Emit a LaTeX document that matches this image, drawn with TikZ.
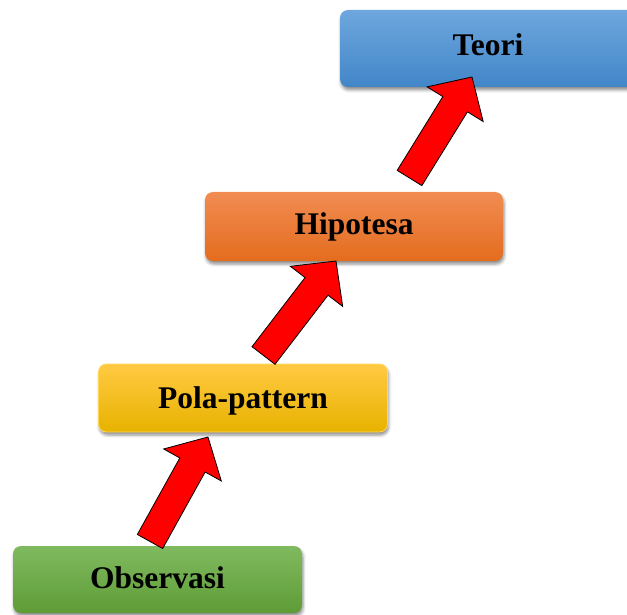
\documentclass[tikz,border=0pt]{standalone}
\usepackage{fontspec}
\setmainfont{Liberation Serif}
\usetikzlibrary{calc,shadows.blur}
\definecolor{bluetop}{RGB}{110,167,222}
\definecolor{bluebot}{RGB}{66,134,200}
\definecolor{orgtop}{RGB}{241,140,82}
\definecolor{orgbot}{RGB}{228,108,30}
\definecolor{yeltop}{RGB}{255,202,66}
\definecolor{yelmid}{RGB}{255,192,0}
\definecolor{yelbot}{RGB}{232,178,0}
\definecolor{yelline}{RGB}{255,215,90}
\definecolor{grntop}{RGB}{128,186,96}
\definecolor{grnbot}{RGB}{94,156,54}
\definecolor{arrowred}{RGB}{255,0,0}
\tikzset{
  stepbox/.style={rounded corners=8pt, inner sep=0pt,
    font=\fontsize{31.5}{36}\selectfont\bfseries, text=black,
    blur shadow={shadow xshift=1pt, shadow yshift=-3pt, shadow blur radius=3pt, shadow opacity=45}},
  bluebox/.style={stepbox, top color=bluetop, bottom color=bluebot},
  orangebox/.style={stepbox, top color=orgtop, bottom color=orgbot},
  yellowbox/.style={stepbox, top color=yeltop, middle color=yelmid, bottom color=yelbot, draw=yelline, line width=0.8pt},
  greenbox/.style={stepbox, top color=grntop, bottom color=grnbot},
  blockarrow/.style={fill=arrowred, draw=black, line width=0.8pt, line join=miter}
}
\newcommand\myblockarrow[2]{%
  \path ($(#2)!32pt!(#1)$) coordinate (H);
  \draw[blockarrow]
    ($(#1)!14.5pt!90:(#2)$) -- ($(H)!14.5pt!90:(#2)$) -- ($(H)!33pt!90:(#2)$) --
    (#2) -- ($(H)!33pt!-90:(#2)$) -- ($(H)!14.5pt!-90:(#2)$) --
    ($(#1)!14.5pt!-90:(#2)$) -- cycle;}
\newcommand\liftby[2]{\raisebox{#1}[\height][\depth]{#2}}
\begin{document}
\begin{tikzpicture}[x=1pt,y=-1pt]
  \useasboundingbox (0,0) rectangle (627,615);
  \clip (0,0) rectangle (627,615);
  \node[greenbox, minimum width=289pt, minimum height=67pt] (obs) at (157.5,579.5) {\liftby{2pt}{Observasi}};
  \node[yellowbox, minimum width=289pt, minimum height=68pt] (pola) at (243,398) {\liftby{-2.5pt}{Pola-pattern}};
  \node[orangebox, minimum width=298pt, minimum height=69pt] (hip) at (354,226.5) {Hipotesa};
  \node[bluebox, minimum width=296pt, minimum height=77pt] (teori) at (488,48.5) {\liftby{4pt}{Teori}};
  \coordinate (t1) at (150,541.5);
  \coordinate (p1) at (208,437);
  \coordinate (t2) at (263.5,355.5);
  \coordinate (p2) at (336,261);
  \coordinate (t3) at (409.5,178);
  \coordinate (p3) at (472,77);
  \myblockarrow{t1}{p1}
  \myblockarrow{t2}{p2}
  \myblockarrow{t3}{p3}
\end{tikzpicture}
\end{document}
